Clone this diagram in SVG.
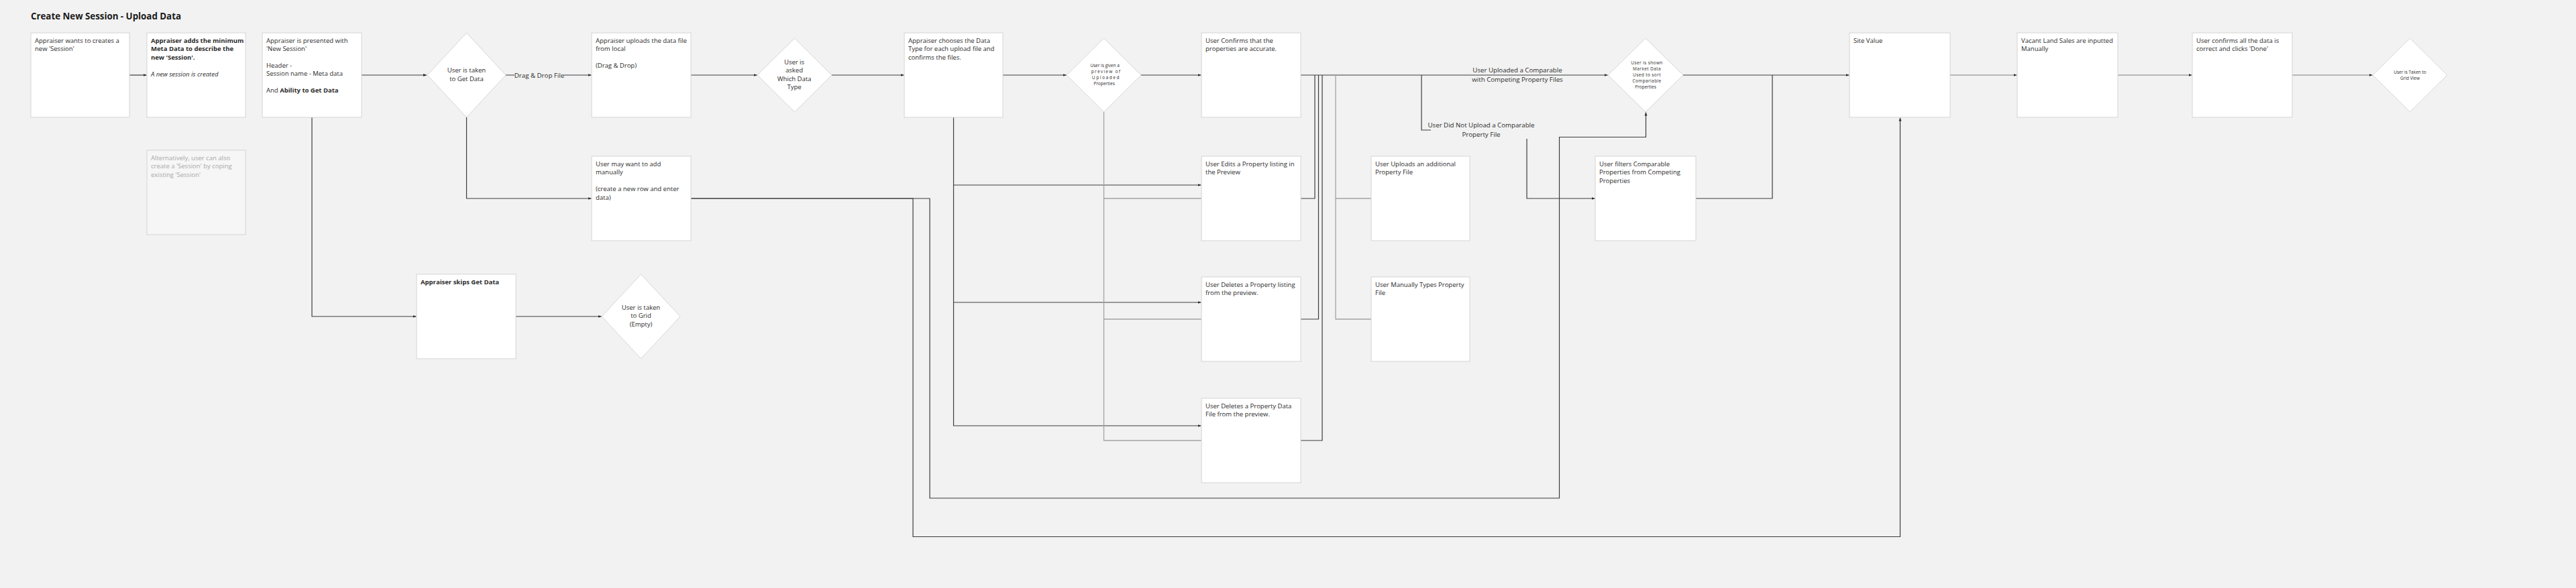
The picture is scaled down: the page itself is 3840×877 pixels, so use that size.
<svg xmlns="http://www.w3.org/2000/svg" width="3840" height="877" viewBox="0 0 3840 877">
<style>
.bg{fill:#f2f2f2}
.box{fill:#ffffff;stroke:#d4d4d4;stroke-width:1}
.alt{fill:#f6f6f6;stroke:#d4d4d4;stroke-width:1}
.dia{fill:#ffffff;stroke:#d6d6d6;stroke-width:1}
.t{font-family:'Open Sans','Liberation Sans',sans-serif;font-size:9.5px;fill:#2b2b2b}
.c{text-anchor:middle}
.b{font-weight:700}
.i{font-style:italic}
.g{fill:#a8a8a8}
.s{font-size:6.5px}
.lbl{font-family:'Open Sans','Liberation Sans',sans-serif;font-size:9.7px;fill:#2b2b2b;text-anchor:middle}
.ln{fill:none;stroke:#3c3c3c;stroke-width:1.2}
.lg{fill:none;stroke:#a3a3a3;stroke-width:1.3}
.title{font-family:'Open Sans','Liberation Sans',sans-serif;font-size:13.3px;font-weight:700;fill:#1a1a1a}
</style>
<defs>
<marker id="ar" viewBox="0 0 6 6" refX="6" refY="3" markerWidth="5" markerHeight="5" markerUnits="userSpaceOnUse" orient="auto">
<path d="M0,0.6 L6,3 L0,5.4 z" fill="#2a2a2a"/>
</marker>
</defs>
<rect class="bg" x="0" y="0" width="3840" height="877"/>
<text class="title" x="46" y="29">Create New Session - Upload Data</text>

<g id="connectors">
<path class="ln" d="M193,112 H218.5" marker-end="url(#ar)"/>
<path class="ln" d="M539,112 H636" marker-end="url(#ar)"/>
<path class="ln" d="M754,112 H881.5" marker-end="url(#ar)"/>
<rect x="767" y="104" width="74" height="15" class="bg"/>
<text class="lbl" x="804" y="115.5">Drag &amp; Drop File</text>
<path class="ln" d="M1030,112 H1128.5" marker-end="url(#ar)"/>
<path class="ln" d="M1240,112 H1347.5" marker-end="url(#ar)"/>
<path class="ln" d="M1495,112 H1589.5" marker-end="url(#ar)"/>
<path class="ln" d="M1701,112 H1790.5" marker-end="url(#ar)"/>
<path class="ln" d="M1939,112 H2396.5" marker-end="url(#ar)"/>
<text class="lbl" x="2262" y="108">User Uploaded a Comparable</text>
<text class="lbl" x="2262" y="121.5">with Competing Property Files</text>
<path class="ln" d="M2509,112 H2756.5" marker-end="url(#ar)"/>
<path class="lg" d="M2907,112 H3006.5" marker-end="url(#ar)"/>
<path class="lg" d="M3157,112 H3267.5" marker-end="url(#ar)"/>
<path class="lg" d="M3417,112 H3536.5" marker-end="url(#ar)"/>
<path class="ln" d="M465,175 V472 H620.5" marker-end="url(#ar)"/>
<path class="ln" d="M769,472 H896.5" marker-end="url(#ar)"/>
<path class="ln" d="M695.5,175 V296 H881.5" marker-end="url(#ar)"/>
<path class="ln" d="M1030,296 H1386 V743 H2324.5 V204.5 H2453.5 V167.5" marker-end="url(#ar)"/>
<path class="ln" d="M1030,296 H1361 V800.5 H2832.5 V175.5" marker-end="url(#ar)"/>
<path class="ln" d="M1421.5,175 V276 H1790.5" marker-end="url(#ar)"/>
<path class="ln" d="M1421.5,276 V451 H1790.5" marker-end="url(#ar)"/>
<path class="ln" d="M1421.5,451 V635 H1790.5" marker-end="url(#ar)"/>
<path class="lg" d="M1645.5,167 V296 H1791"/>
<path class="lg" d="M1645.5,296 V476 H1791"/>
<path class="lg" d="M1645.5,476 V657 H1791"/>
<path class="ln" d="M1939,296 H1960 V112"/>
<path class="ln" d="M1939,476 H1965.5 V112"/>
<path class="ln" d="M1939,657 H1971 V112"/>
<path class="lg" d="M1991,112 V296 H2044"/>
<path class="lg" d="M1991,296 V476 H2044"/>
<path class="ln" d="M2119,112 V194 H2133"/>
<text class="lbl" x="2208" y="190">User Did Not Upload a Comparable</text>
<text class="lbl" x="2208" y="203.5">Property File</text>
<path class="ln" d="M2276,207 V296 H2377.5" marker-end="url(#ar)"/>
<path class="ln" d="M2528,296 H2642 V112"/>
</g>

<g id="n1"><rect class="box" x="46" y="49" width="147" height="126"/>
<text class="t" x="52" y="64">Appraiser wants to creates a</text>
<text class="t" x="52" y="76.4">new 'Session'</text></g>

<g id="n2"><rect class="box" x="219" y="49" width="147" height="126"/>
<text class="t b" x="225" y="64">Appraiser adds the minimum</text>
<text class="t b" x="225" y="76.4">Meta Data to describe the</text>
<text class="t b" x="225" y="88.8">new 'Session'.</text>
<text class="t i" x="225" y="113.6">A new session is created</text></g>

<g id="n3"><rect class="box" x="391" y="49" width="148" height="126"/>
<text class="t" x="397" y="64">Appraiser is presented with</text>
<text class="t" x="397" y="76.4">'New Session'</text>
<text class="t" x="397" y="100.5">Header -</text>
<text class="t" x="397" y="112.9">Session name - Meta data</text>
<text class="t" x="397" y="137.5">And <tspan class="b">Ability to Get Data</tspan></text></g>

<g id="alt"><rect class="alt" x="219" y="224" width="147" height="126"/>
<text class="t g" x="225" y="239">Alternatively, user can also</text>
<text class="t g" x="225" y="251.4">create a 'Session' by coping</text>
<text class="t g" x="225" y="263.8">existing 'Session'</text></g>

<g id="d1"><path class="dia" d="M695.5,49 L754,112 L695.5,175 L637,112 Z"/>
<text class="t c" x="695.5" y="108">User is taken</text>
<text class="t c" x="695.5" y="120.5">to Get Data</text></g>

<g id="n4"><rect class="box" x="882" y="49" width="148" height="126"/>
<text class="t" x="888" y="64">Appraiser uploads the data file</text>
<text class="t" x="888" y="76.4">from local</text>
<text class="t" x="888" y="101.2">(Drag &amp; Drop)</text></g>

<g id="d2"><path class="dia" d="M1184.5,57 L1240,112 L1184.5,167 L1129,112 Z"/>
<text class="t c" x="1184" y="96">User is</text>
<text class="t c" x="1184" y="108.4">asked</text>
<text class="t c" x="1184" y="120.8">Which Data</text>
<text class="t c" x="1184" y="133.2">Type</text></g>

<g id="n5"><rect class="box" x="1348" y="49" width="147" height="126"/>
<text class="t" x="1354" y="64">Appraiser chooses the Data</text>
<text class="t" x="1354" y="76.4">Type for each upload file and</text>
<text class="t" x="1354" y="88.8">confirms the files.</text></g>

<g id="d3"><path class="dia" d="M1645.5,57 L1701,112 L1645.5,167 L1590,112 Z"/>
<text class="t s c" x="1647" y="100">User is given a</text>
<text class="t s c" x="1649" y="109" letter-spacing="1.3">preview of</text>
<text class="t s c" x="1649" y="118" letter-spacing="1.6">Uploaded</text>
<text class="t s c" x="1646" y="127">Properties</text></g>

<g id="n6"><rect class="box" x="1791" y="49" width="148" height="126"/>
<text class="t" x="1797" y="64">User Confirms that the</text>
<text class="t" x="1797" y="76.4">properties are accurate.</text></g>

<g id="d4"><path class="dia" d="M2453,57 L2509,112 L2453,167 L2397,112 Z"/>
<text class="t s c" x="2455" y="96" letter-spacing="0.4">User is shown</text>
<text class="t s c" x="2455" y="105" letter-spacing="0.4">Market Data</text>
<text class="t s c" x="2455" y="114" letter-spacing="0.4">Used to sort</text>
<text class="t s c" x="2455" y="123" letter-spacing="0.4">Compariable</text>
<text class="t s c" x="2453" y="132">Properties</text></g>

<g id="n7"><rect class="box" x="2757" y="49" width="150" height="126"/>
<text class="t" x="2763" y="64">Site Value</text></g>

<g id="n8"><rect class="box" x="3007" y="49" width="150" height="126"/>
<text class="t" x="3013" y="64">Vacant Land Sales are inputted</text>
<text class="t" x="3013" y="76.4">Manually</text></g>

<g id="n9"><rect class="box" x="3268" y="49" width="149" height="126"/>
<text class="t" x="3274" y="64">User confirms all the data is</text>
<text class="t" x="3274" y="76.4">correct and clicks 'Done'</text></g>

<g id="d5"><path class="dia" d="M3592.5,57 L3648,112 L3592.5,167 L3537,112 Z"/>
<text class="t s c" x="3592.5" y="109.5">User is Taken to</text>
<text class="t s c" x="3592.5" y="118.5">Grid View</text></g>

<g id="n10"><rect class="box" x="882" y="233" width="148" height="126"/>
<text class="t" x="888" y="248">User may want to add</text>
<text class="t" x="888" y="260.4">manually</text>
<text class="t" x="888" y="285.2">(create a new row and enter</text>
<text class="t" x="888" y="297.6">data)</text></g>

<g id="n11"><rect class="box" x="1791" y="233" width="148" height="126"/>
<text class="t" x="1797" y="248">User Edits a Property listing in</text>
<text class="t" x="1797" y="260.4">the Preview</text></g>

<g id="n12"><rect class="box" x="2044" y="233" width="147" height="126"/>
<text class="t" x="2050" y="248">User Uploads an additional</text>
<text class="t" x="2050" y="260.4">Property File</text></g>

<g id="n13"><rect class="box" x="2378" y="233" width="150" height="126"/>
<text class="t" x="2384" y="248">User filters Comparable</text>
<text class="t" x="2384" y="260.4">Properties from Competing</text>
<text class="t" x="2384" y="272.8">Properties</text></g>

<g id="n14"><rect class="box" x="1791" y="413" width="148" height="126"/>
<text class="t" x="1797" y="428">User Deletes a Property listing</text>
<text class="t" x="1797" y="440.4">from the preview.</text></g>

<g id="n15"><rect class="box" x="2044" y="413" width="147" height="126"/>
<text class="t" x="2050" y="428">User Manually Types Property</text>
<text class="t" x="2050" y="440.4">File</text></g>

<g id="n16"><rect class="box" x="1791" y="594" width="148" height="126"/>
<text class="t" x="1797" y="609">User Deletes a Property Data</text>
<text class="t" x="1797" y="621.4">File from the preview.</text></g>

<g id="n17"><rect class="box" x="621" y="409" width="148" height="126"/>
<text class="t b" x="627" y="424">Appraiser skips Get Data</text></g>

<g id="d6"><path class="dia" d="M955.5,409 L1014,472 L955.5,535 L897,472 Z"/>
<text class="t c" x="955.5" y="462">User is taken</text>
<text class="t c" x="955.5" y="474.4">to Grid</text>
<text class="t c" x="955.5" y="486.8">(Empty)</text></g>
</svg>
